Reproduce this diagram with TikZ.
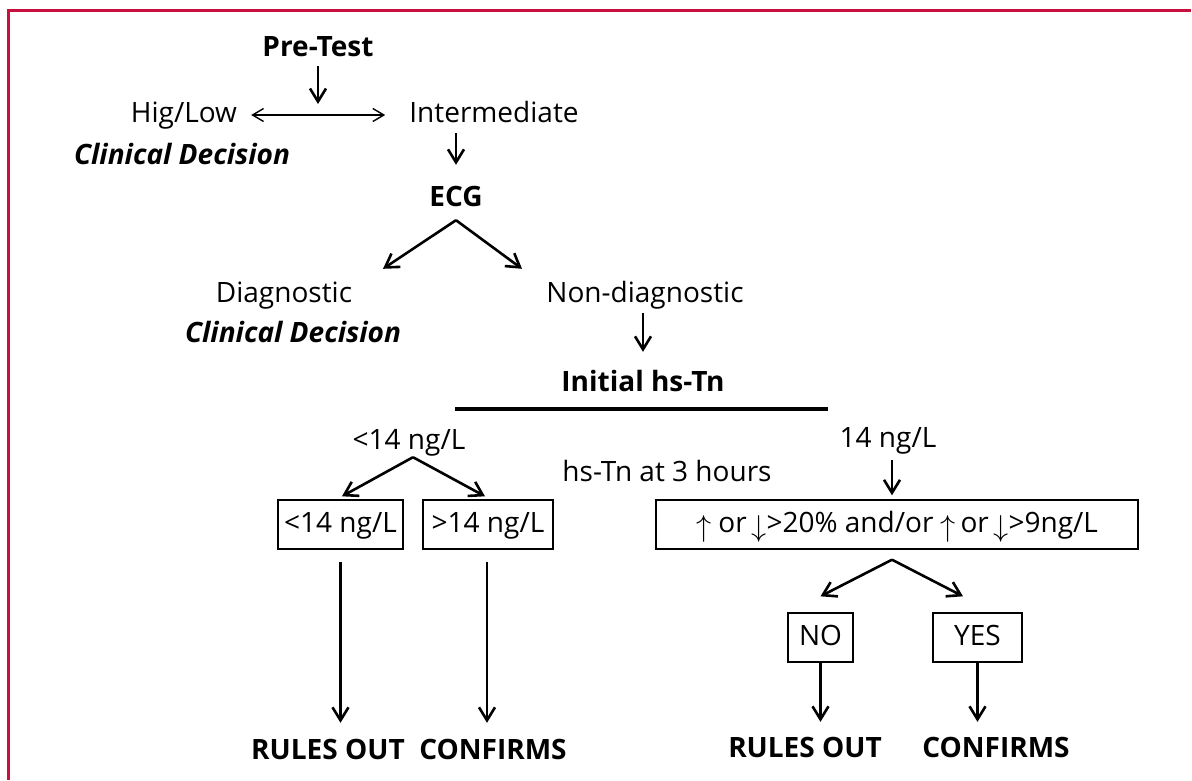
\documentclass[tikz,border=0pt]{standalone}
\usepackage{fontspec}
\usepackage{graphicx}
\setmainfont{Open Sans}
\usetikzlibrary{arrows.meta}

\definecolor{framered}{RGB}{200,16,62}
\newcommand{\nodesize}{\fontsize{28}{34}\selectfont}
\newcommand{\up}{\raisebox{-4pt}{\resizebox{!}{21pt}{$\uparrow$}}}
\newcommand{\down}{\raisebox{-4pt}{\resizebox{!}{21pt}{$\downarrow$}}}

\tikzset{
  lbl/.style={font=\nodesize, inner sep=0pt, text height=21pt, text depth=6pt},
  bold/.style={lbl, font=\nodesize\bfseries},
  decision/.style={lbl, font=\nodesize\bfseries\itshape},
  box/.style={lbl, draw, line width=1.4pt, minimum height=49pt},
  arr/.style={line width=2.6pt, -{Straight Barb[length=13pt,width=16pt]}},
  dblarr/.style={line width=1.4pt,
    {Straight Barb[length=11pt,width=13pt]}-{Straight Barb[length=11pt,width=13pt]}},
}

\begin{document}
\begin{tikzpicture}[x=1pt,y=-1pt]
    \useasboundingbox (0,0) rectangle (1192,780);
    % Draw frame
    \draw[framered, line width=3pt] (8.5,780) -- (8.5,10.5) -- (1191,10.5);

    % Pre-test step
    \node[bold] (pretest) at (318,49) {Pre-Test};
    \node[lbl] (higlow) at (184,115) {Hig/Low};
    \node[lbl] (inter) at (494,115) {Intermediate};
    \node[decision] (cdtop) at (182,157) {Clinical Decision};
    \coordinate (split) at (318,104);

    % ECG step
    \node[bold] (ecg) at (456,199) {ECG};
    \node[lbl] (diag) at (284,295) {Diagnostic};
    \node[decision] (cdecg) at (293,335) {Clinical Decision};
    \node[lbl] (nondiag) at (645,295) {Non-diagnostic};
    \node[bold] (initial) at (643,384) {Initial hs-Tn};

    % Troponin values
    \node[lbl] (low) at (409,442) {<14 ng/L};
    \node[lbl] (hsthree) at (667,474) {hs-Tn at 3 hours};
    \node[lbl] (high) at (888,440) {14 ng/L};

    \node[box, minimum width=125pt] (lowbox) at (340.5,524.5) {<14 ng/L};
    \node[box, minimum width=130pt] (highbox) at (488,524.5) {>14 ng/L};
    \node[box, minimum width=482pt] (deltabox) at (897,524.5)
      {\up{} or\,\down>20\% and/or \up\,or\,\down>9ng/L};
    \node[box, minimum width=65pt] (nobox) at (820.5,637.5) {NO};
    \node[box, minimum width=89pt] (yesbox) at (977.5,637.5) {YES};

    % Outcomes
    \node[bold] (outleft) at (328,752) {RULES OUT};
    \node[bold] (confleft) at (493,752) {CONFIRMS};
    \node[bold] (outright) at (805,750) {RULES OUT};
    \node[bold] (confright) at (996,750) {CONFIRMS};

    % Draw arrows
    \draw[arr, shorten <=3.5pt] (pretest.south) -- (split);
    \draw[dblarr, shorten <=14pt, shorten >=24pt] (higlow.east) -- (inter.west);
    \draw[arr, shorten <=4.5pt, shorten >=20.5pt] (inter.south -| ecg.north) -- (ecg.north);
    \draw[arr] ([yshift=-7.5pt]ecg.south) -- ([xshift=99pt,yshift=12.5pt]diag.north);
    \draw[arr] ([yshift=-7.5pt]ecg.south) -- ([xshift=-123pt,yshift=12.5pt]nondiag.north);
    \draw[arr, shorten <=4.5pt, shorten >=18.5pt] (initial.north |- nondiag.south) -- (initial.north);

    % Draw separator line
    \draw[line width=3.5pt] (455,409) -- (828,409);

    \draw[arr] ([xshift=4pt,yshift=-1.5pt]low.south) -- ([xshift=1.5pt,yshift=3pt]lowbox.north);
    \draw[arr] ([xshift=4pt,yshift=-1.5pt]low.south) -- ([xshift=-3pt,yshift=3pt]highbox.north);
    \draw[arr, shorten <=12pt, shorten >=15.5pt] (lowbox.south) -- (lowbox.south |- outleft.north);
    \draw[arr, shorten <=12pt, shorten >=15.5pt] ([xshift=-1pt]highbox.south)
      -- ([xshift=-1pt]highbox.south |- confleft.north);

    \draw[arr, shorten <=6.5pt, shorten >=4pt] ([xshift=4pt]high.south)
      -- ([xshift=4pt]high.south |- deltabox.north);
    \draw[arr] ([xshift=-5pt,yshift=-10pt]deltabox.south) -- ([yshift=16pt]nobox.north);
    \draw[arr] ([xshift=-5pt,yshift=-10pt]deltabox.south) -- ([xshift=-14.5pt,yshift=16pt]yesbox.north);
    \draw[arr, shorten >=14.5pt] (nobox.south) -- (nobox.south |- outright.north);
    \draw[arr, shorten >=14.5pt] (yesbox.south) -- (yesbox.south |- confright.north);

\end{tikzpicture}
\end{document}
